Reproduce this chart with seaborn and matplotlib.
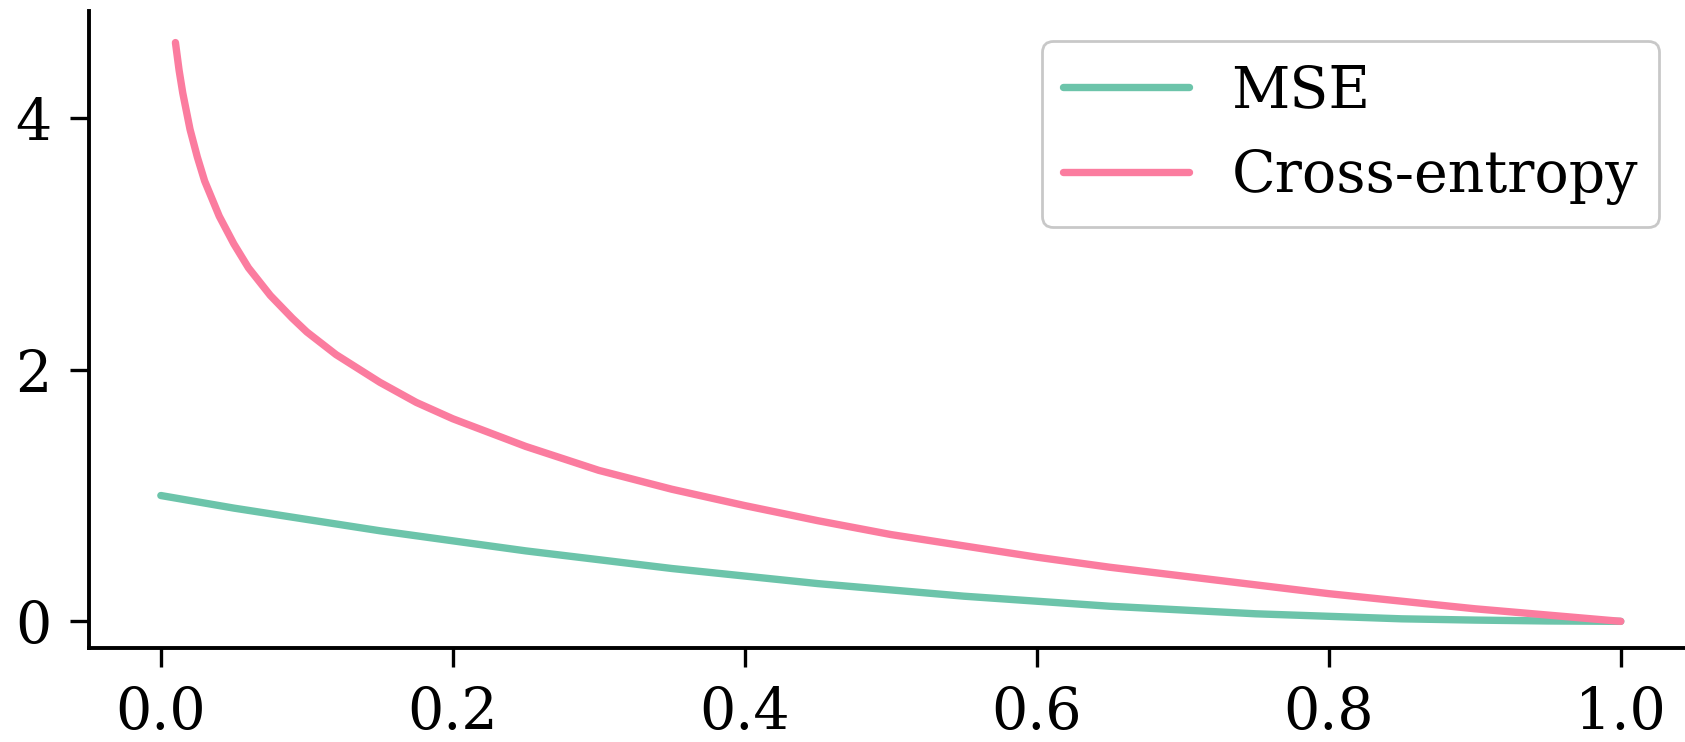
import pandas as pd
import seaborn as sns
import matplotlib.pyplot as plt

# values
mse_x = [0.0, 0.05, 0.1, 0.15, 0.2, 0.25, 0.3, 0.35, 0.4, 0.45, 0.5,
         0.55, 0.6, 0.65, 0.7, 0.75, 0.8, 0.85, 0.9, 0.95, 1.0]
mse_y = [1.0, 0.9, 0.81, 0.72, 0.64, 0.56, 0.49, 0.42, 0.36, 0.3, 0.25,
         0.2, 0.16, 0.12, 0.09, 0.06, 0.04, 0.02, 0.01, 0.003, 0.0]

ce_x = [0.01, 0.0125, 0.015, 0.02, 0.025, 0.03, 0.04, 0.05, 0.06, 0.075,
        0.09, 0.1, 0.12, 0.15, 0.175, 0.2, 0.25, 0.3, 0.35, 0.4, 0.45,
        0.5, 0.55, 0.6, 0.65, 0.7, 0.75, 0.8, 0.85, 0.9, 0.95, 1.0]
ce_y = [4.6, 4.38, 4.2, 3.91, 3.69, 3.5, 3.22, 3.0, 2.81, 2.59,
        2.41, 2.3, 2.12, 1.9, 1.74, 1.61, 1.39, 1.2, 1.05, 0.92, 0.8,
        0.69, 0.6, 0.51, 0.43, 0.36, 0.29, 0.22, 0.16, 0.1, 0.05, 0.0]

df = pd.concat([
    pd.DataFrame({"x": mse_x, "y": mse_y, "loss": "MSE"}),
    pd.DataFrame({"x": ce_x, "y": ce_y, "loss": "Cross-entropy"}),
])

sns.set_style("ticks")
plt.rcParams["font.family"] = ["DejaVu Serif"]
plt.rcParams["text.color"] = "black"

fig = plt.figure(figsize=(16.85, 7.42), dpi=100)
ax = fig.add_axes([0.053, 0.127, 0.947, 0.858])

sns.lineplot(data=df, x="x", y="y", hue="loss",
             palette=["#6cc4aa", "#fb7c9f"], linewidth=5.3, ax=ax)

ax.set_xlim(-0.049, 1.044)
ax.set_ylim(-0.21, 4.85)
ax.set_xticks([0.0, 0.2, 0.4, 0.6, 0.8, 1.0])
ax.set_yticks([0, 2, 4])
ax.set_xlabel("")
ax.set_ylabel("")
ax.tick_params(labelsize=41, length=14, width=2.4, colors="black", pad=13)
for s in ["left", "bottom"]:
    ax.spines[s].set_linewidth(2.8)
    ax.spines[s].set_color("black")
sns.despine(ax=ax)

leg = ax.legend(title=None, fontsize=41, loc="upper right",
                bbox_to_anchor=(0.984, 0.953), borderaxespad=0,
                handlelength=2.2, handletextpad=0.75, frameon=True,
                borderpad=0.38, labelspacing=0.52)
for line in leg.get_lines():
    line.set_linewidth(5.3)
for t in leg.get_texts():
    t.set_color("black")
leg.get_frame().set_edgecolor("#bbbbbb")
leg.get_frame().set_linewidth(2)

fig.savefig("out.png", dpi=100)
